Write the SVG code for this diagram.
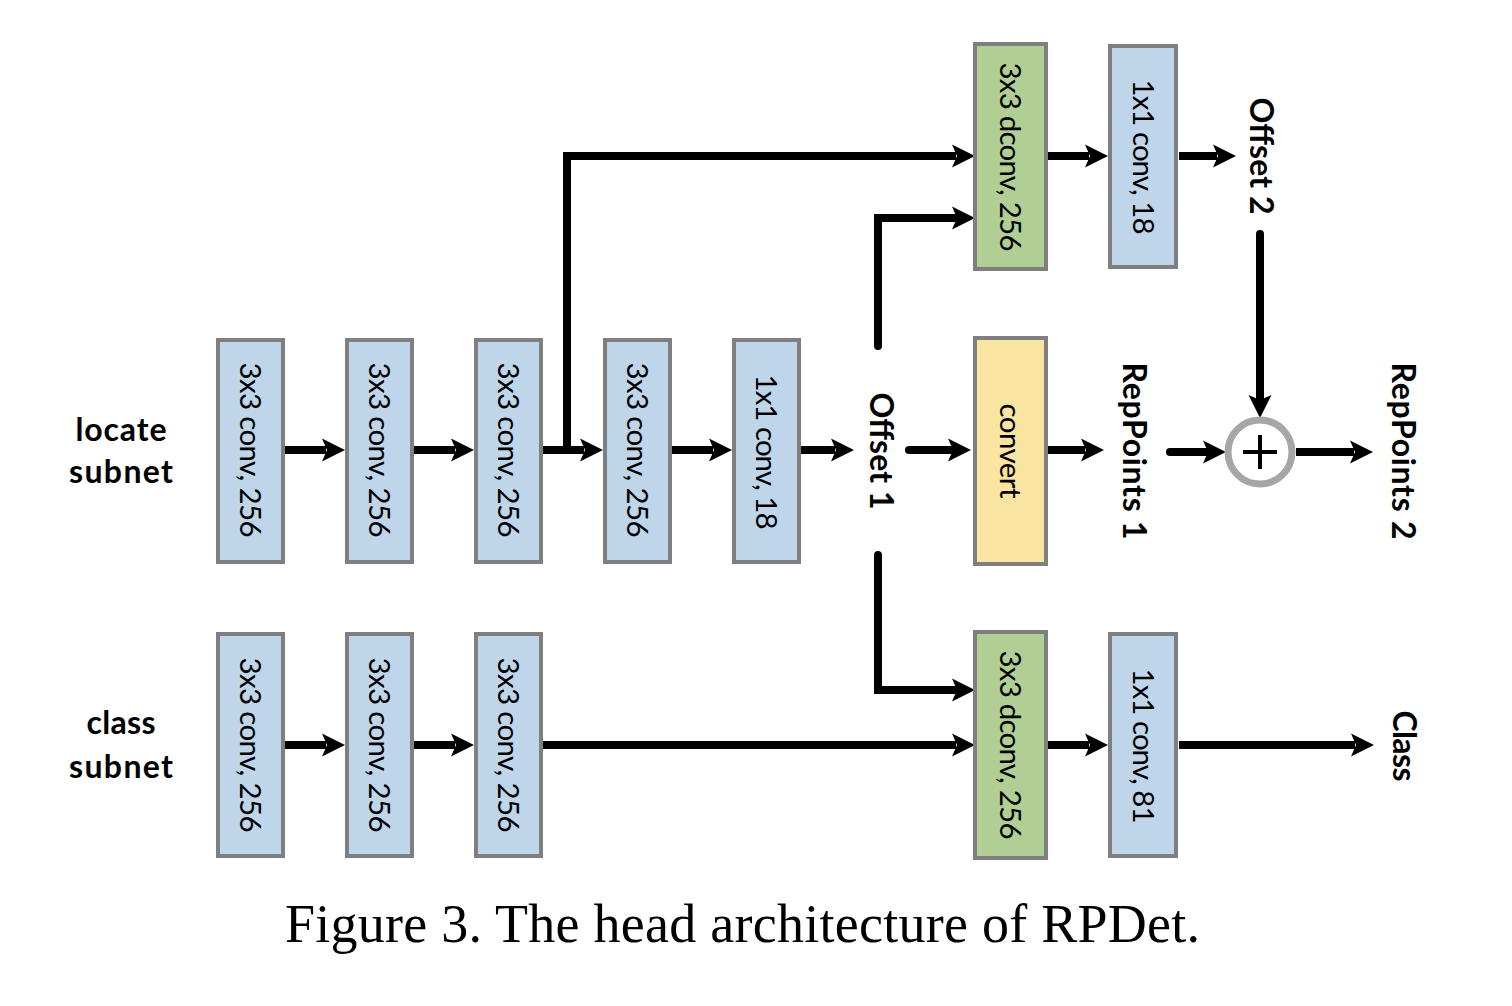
<svg xmlns="http://www.w3.org/2000/svg" width="1512" height="1006" viewBox="0 0 1512 1006">
<defs>
<marker id="ah" markerUnits="userSpaceOnUse" viewBox="-1 -13 26 26" markerWidth="26" markerHeight="26" refX="4" refY="0" orient="auto">
<path d="M0,-11.5 L23,0 L0,11.5 L5,0 Z" fill="#000"/>
</marker>
<style>
.box{stroke:#7f7f7f;stroke-width:4}
.blue{fill:#bfd6ea}
.green{fill:#b1cf95}
.yellow{fill:#f9e4a2}
.lbl{font-family:Lato,"Open Sans","Liberation Sans",sans-serif;font-size:29.5px;fill:#000;text-anchor:middle}
.bold{font-family:Lato,"Open Sans","Liberation Sans",sans-serif;font-size:32px;font-weight:bold;fill:#000;text-anchor:middle}
.sub{font-family:Lato,"Open Sans","Liberation Sans",sans-serif;font-size:32px;font-weight:bold;fill:#000;text-anchor:middle}
.cap{font-family:"Liberation Serif","Times New Roman",serif;font-size:54px;fill:#000}
.ln{fill:none;stroke:#000;stroke-width:8;stroke-linejoin:miter}
.arr{marker-end:url(#ah)}
.rc{stroke-linecap:round}
</style>
</defs>
<rect width="1512" height="1006" fill="#fff"/>

<g id="connectors">
<path class="ln arr" d="M285,450 H326"/>
<path class="ln arr" d="M414,450 H455"/>
<path class="ln arr" d="M543,450 H584"/>
<path class="ln arr" d="M672,450 H713"/>
<path class="ln arr" d="M801,450 H835"/>
<path class="ln arr rc" d="M909,450 H952"/>
<path class="ln arr" d="M1048,450 H1085"/>
<path class="ln arr rc" d="M1170,452 H1207"/>
<path class="ln arr" d="M1296,452 H1354"/>
<path class="ln arr" d="M567,450 V156 H956"/>
<path class="ln arr" d="M1048,156 H1089"/>
<path class="ln arr" d="M1179,156 H1217"/>
<path class="ln arr rc" d="M878,346 V218 H956"/>
<path class="ln arr rc" d="M1260,234 V399"/>
<path class="ln arr rc" d="M878,555 V690 H956"/>
<path class="ln arr" d="M285,745 H326"/>
<path class="ln arr" d="M414,745 H455"/>
<path class="ln arr" d="M543,745 H956"/>
<path class="ln arr" d="M1048,745 H1089"/>
<path class="ln arr" d="M1179,745 H1355"/>
</g>

<g id="locate-label"><text class="sub" x="121" y="441" textLength="91">locate</text><text class="sub" x="121" y="483" textLength="104">subnet</text></g>
<g id="class-label"><text class="sub" x="121" y="734" textLength="69">class</text><text class="sub" x="121" y="778" textLength="104">subnet</text></g>

<g id="loc1"><rect class="box blue" x="218" y="340" width="65" height="222"/><text class="lbl" transform="translate(250,450) rotate(90)" y="10.5" textLength="175">3x3 conv, 256</text></g>
<g id="loc2"><rect class="box blue" x="347" y="340" width="65" height="222"/><text class="lbl" transform="translate(379,450) rotate(90)" y="10.5" textLength="175">3x3 conv, 256</text></g>
<g id="loc3"><rect class="box blue" x="476" y="340" width="65" height="222"/><text class="lbl" transform="translate(508,450) rotate(90)" y="10.5" textLength="175">3x3 conv, 256</text></g>
<g id="loc4"><rect class="box blue" x="605" y="340" width="65" height="222"/><text class="lbl" transform="translate(637,450) rotate(90)" y="10.5" textLength="175">3x3 conv, 256</text></g>
<g id="loc5"><rect class="box blue" x="734" y="340" width="65" height="222"/><text class="lbl" transform="translate(766,452) rotate(90)" y="10.5" textLength="155">1x1 conv, 18</text></g>

<g id="offset1"><text class="bold" transform="translate(882,451) rotate(90)" y="12" textLength="117">Offset 1</text></g>
<g id="convert"><rect class="box yellow" x="975" y="338" width="71" height="226"/><text class="lbl" transform="translate(1010,451) rotate(90)" y="10.5" textLength="95">convert</text></g>
<g id="reppoints1"><text class="bold" transform="translate(1135,451) rotate(90)" y="12" textLength="177">RepPoints 1</text></g>
<g id="plus"><circle cx="1260" cy="452" r="32" fill="#fff" stroke="#a6a6a6" stroke-width="7"/><path d="M1243,452 H1277 M1260,435 V469" stroke="#000" stroke-width="4"/></g>
<g id="reppoints2"><text class="bold" transform="translate(1404,451) rotate(90)" y="12" textLength="177">RepPoints 2</text></g>

<g id="dconv-top"><rect class="box green" x="975" y="44" width="71" height="225"/><text class="lbl" transform="translate(1010,157) rotate(90)" y="10.5" textLength="189">3x3 dconv, 256</text></g>
<g id="conv-top"><rect class="box blue" x="1110" y="46" width="66" height="221"/><text class="lbl" transform="translate(1143,157) rotate(90)" y="10.5" textLength="155">1x1 conv, 18</text></g>
<g id="offset2"><text class="bold" transform="translate(1262,156) rotate(90)" y="12" textLength="117">Offset 2</text></g>

<g id="cls1"><rect class="box blue" x="218" y="634" width="65" height="222"/><text class="lbl" transform="translate(250,745) rotate(90)" y="10.5" textLength="175">3x3 conv, 256</text></g>
<g id="cls2"><rect class="box blue" x="347" y="634" width="65" height="222"/><text class="lbl" transform="translate(379,745) rotate(90)" y="10.5" textLength="175">3x3 conv, 256</text></g>
<g id="cls3"><rect class="box blue" x="476" y="634" width="65" height="222"/><text class="lbl" transform="translate(508,745) rotate(90)" y="10.5" textLength="175">3x3 conv, 256</text></g>
<g id="dconv-bot"><rect class="box green" x="975" y="632" width="71" height="226"/><text class="lbl" transform="translate(1010,745) rotate(90)" y="10.5" textLength="189">3x3 dconv, 256</text></g>
<g id="conv-bot"><rect class="box blue" x="1110" y="634" width="66" height="222"/><text class="lbl" transform="translate(1143,746) rotate(90)" y="10.5" textLength="155">1x1 conv, 81</text></g>
<g id="class-out"><text class="bold" transform="translate(1405,746) rotate(90)" y="12" textLength="71">Class</text></g>

<g id="caption"><text class="cap" x="285" y="942" textLength="915">Figure 3. The head architecture of RPDet.</text></g>
</svg>
